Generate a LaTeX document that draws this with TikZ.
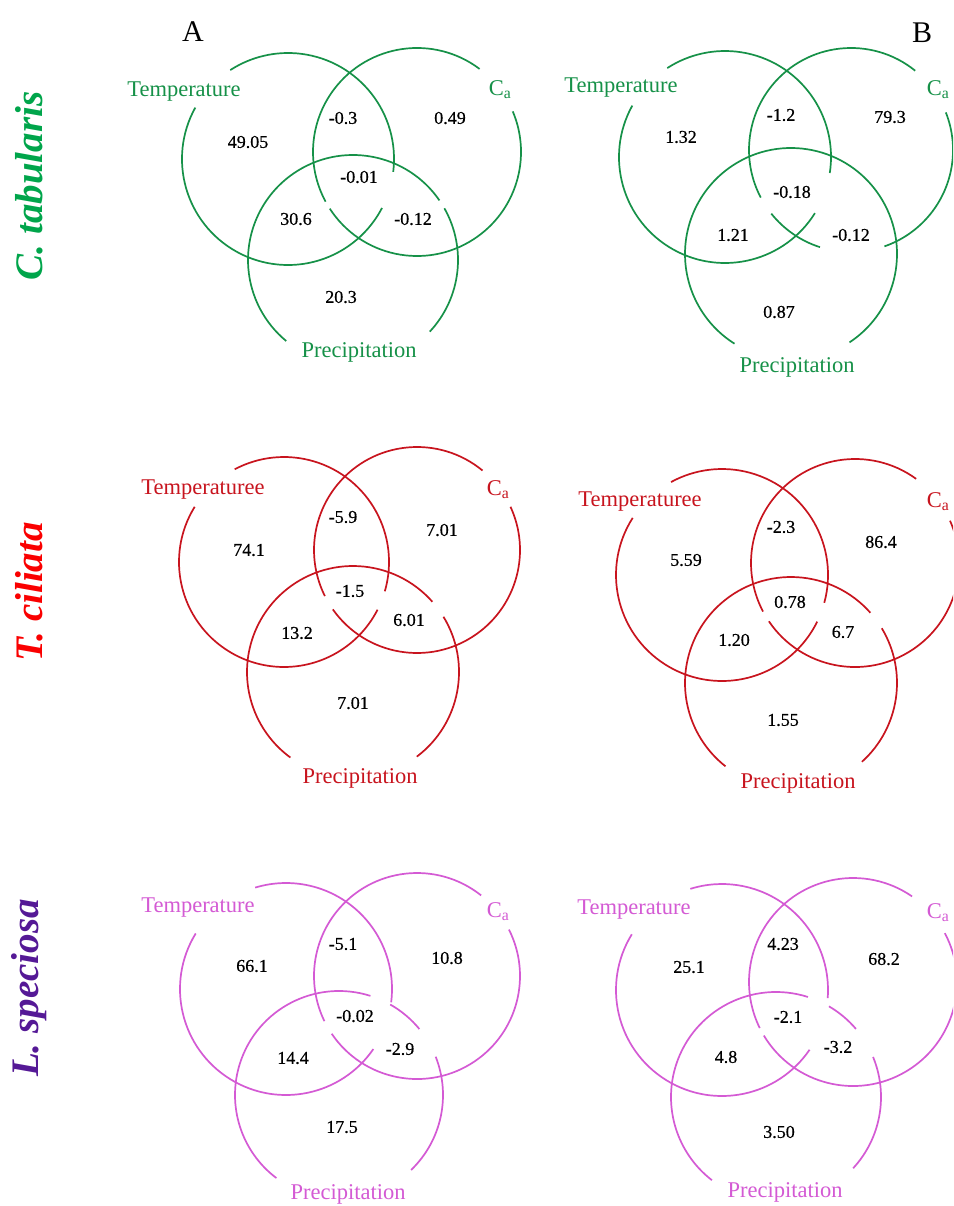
\documentclass[tikz,border=0pt]{standalone}
\usepackage{fontspec}
\setmainfont{Liberation Serif}
\newfontfamily\numfont[FakeBold=0.5]{Liberation Serif}
\definecolor{grn}{RGB}{22,145,72}
\definecolor{grnT}{RGB}{0,165,75}
\definecolor{rd}{RGB}{200,20,30}
\definecolor{rdT}{RGB}{250,0,0}
\definecolor{mg}{RGB}{212,90,212}
\definecolor{mgT}{RGB}{85,25,150}
\tikzset{
 venn/.style={line width=1.7pt},
 setlab/.style={font=\fontsize{22.5}{24}\selectfont, inner sep=0pt},
 num/.style={font=\numfont\fontsize{18}{20}\selectfont, inner sep=0pt, text=black},
 species/.style={font=\fontsize{39}{40}\selectfont\bfseries\itshape, rotate=90, inner sep=0pt},
 panel/.style={font=\fontsize{30}{32}\selectfont, inner sep=0pt, text=black},
}
\newcommand\seg[4]{\draw[venn] (#1) ++(#2:#4pt) arc[start angle=#2, end angle=#3, radius=#4pt];}
\begin{document}
\begin{tikzpicture}[x=1pt,y=1pt]
\useasboundingbox (0,0) rectangle (953,-1206);
\fill[white] (0,0) rectangle (953,-1206);
\clip (0,0) rectangle (953,-1206);

\node[panel] (lA) at (193,-32) {A};
\node[panel] (lB) at (922,-33) {B};
\node[species, text=grnT] (sp1) at (29,-186) {C. tabularis};
\node[species, text=rdT] (sp2) at (29,-592) {T. ciliata};
\node[species, text=mgT] (sp3) at (29,-988) {L. speciosa};

% ---------- A1 ----------
\begin{scope}[color=grn]
\coordinate (A1T) at (288,-159);
\coordinate (A1C) at (417,-152);
\coordinate (A1P) at (353,-260);
\seg{A1T}{-7}{123}{106}
\seg{A1T}{151}{332.5}{106}
\seg{A1C}{53}{208.5}{104}
\seg{A1C}{213}{383}{104}
\seg{A1P}{-43}{29.5}{105}
\seg{A1P}{34.6}{230.5}{105}
\node[setlab] (A1t) at (184,-92) {Temperature};
\node[setlab] (A1c) at (500,-90) {C\textsubscript{a}};
\node[setlab] (A1p) at (359,-352) {Precipitation};
\node[num] (A1n1) at (343,-118) {-0.3};
\node[num] (A1n2) at (450,-118) {0.49};
\node[num] (A1n3) at (248,-142) {49.05};
\node[num] (A1n4) at (359,-177) {-0.01};
\node[num] (A1n5) at (296,-219) {30.6};
\node[num] (A1n6) at (413,-219) {-0.12};
\node[num] (A1n7) at (341,-297) {20.3};
\end{scope}

% ---------- B1 ----------
\begin{scope}[color=grn]
\coordinate (B1T) at (725,-157);
\coordinate (B1C) at (851,-150);
\coordinate (B1P) at (791,-254);
\seg{B1T}{-8.7}{123}{106}
\seg{B1T}{151}{328}{106}
\seg{B1C}{51}{207.8}{102}
\seg{B1C}{218.6}{252.3}{102}
\seg{B1C}{289.1}{381.6}{102}
\seg{B1P}{-56.5}{237.8}{106}
\node[setlab] (B1t) at (621,-88) {Temperature};
\node[setlab] (B1c) at (938,-90) {C\textsubscript{a}};
\node[setlab] (B1p) at (797,-367) {Precipitation};
\node[num] (B1n1) at (781,-115) {-1.2};
\node[num] (B1n2) at (890,-117) {79.3};
\node[num] (B1n3) at (681,-137) {1.32};
\node[num] (B1n4) at (792,-192) {-0.18};
\node[num] (B1n5) at (733,-235) {1.21};
\node[num] (B1n6) at (851,-235) {-0.12};
\node[num] (B1n7) at (779,-312) {0.87};
\end{scope}

% ---------- A2 ----------
\begin{scope}[color=rd]
\coordinate (A2T) at (284,-562);
\coordinate (A2C) at (417,-550);
\coordinate (A2P) at (353,-672);
\seg{A2T}{-16.2}{118}{105}
\seg{A2T}{148.3}{333}{105}
\seg{A2C}{50.5}{206.6}{103}
\seg{A2C}{215.2}{384.8}{103}
\seg{A2P}{-53}{31.4}{106}
\seg{A2P}{41.5}{233.8}{106}
\node[setlab] (A2t) at (203,-490) {Temperaturee};
\node[setlab] (A2c) at (498,-490) {C\textsubscript{a}};
\node[setlab] (A2p) at (360,-778) {Precipitation};
\node[num] (A2n1) at (343,-517) {-5.9};
\node[num] (A2n2) at (442,-530) {7.01};
\node[num] (A2n3) at (249,-550) {74.1};
\node[num] (A2n4) at (350,-591) {-1.5};
\node[num] (A2n5) at (297,-633) {13.2};
\node[num] (A2n6) at (409,-620) {6.01};
\node[num] (A2n7) at (353,-703) {7.01};
\end{scope}

% ---------- B2 ----------
\begin{scope}[color=rd]
\coordinate (B2T) at (722,-575);
\coordinate (B2C) at (855,-563);
\coordinate (B2P) at (791,-683);
\seg{B2T}{-15.2}{118.7}{106}
\seg{B2T}{147.4}{333.9}{106}
\seg{B2C}{54}{207.8}{104}
\seg{B2C}{214.1}{384}{104}
\seg{B2P}{-48}{31.1}{106}
\seg{B2P}{41.5}{231.8}{106}
\node[setlab] (B2t) at (640,-502) {Temperaturee};
\node[setlab] (B2c) at (938,-502) {C\textsubscript{a}};
\node[setlab] (B2p) at (798,-783) {Precipitation};
\node[num] (B2n1) at (781,-527) {-2.3};
\node[num] (B2n2) at (881,-542) {86.4};
\node[num] (B2n3) at (686,-560) {5.59};
\node[num] (B2n4) at (790,-602) {0.78};
\node[num] (B2n5) at (734,-640) {1.20};
\node[num] (B2n6) at (843,-632) {6.7};
\node[num] (B2n7) at (783,-720) {1.55};
\end{scope}

% ---------- A3 ----------
\begin{scope}[color=mg]
\coordinate (A3T) at (286,-989);
\coordinate (A3C) at (417,-976);
\coordinate (A3P) at (339,-1095);
\seg{A3T}{-7.2}{106.9}{106}
\seg{A3T}{148.4}{325.5}{106}
\seg{A3C}{51.5}{206}{103}
\seg{A3C}{214.1}{386.8}{103}
\seg{A3P}{-46.1}{21.6}{104}
\seg{A3P}{39.4}{60.5}{104}
\seg{A3P}{72.4}{233}{104}
\node[setlab] (A3t) at (198,-908) {Temperature};
\node[setlab] (A3c) at (498,-912) {C\textsubscript{a}};
\node[setlab] (A3p) at (348,-1194) {Precipitation};
\node[num] (A3n1) at (343,-944) {-5.1};
\node[num] (A3n2) at (447,-958) {10.8};
\node[num] (A3n3) at (252,-966) {66.1};
\node[num] (A3n4) at (355,-1016) {-0.02};
\node[num] (A3n5) at (293,-1058) {14.4};
\node[num] (A3n6) at (400,-1049) {-2.9};
\node[num] (A3n7) at (342,-1127) {17.5};
\end{scope}

% ---------- B3 ----------
\begin{scope}[color=mg]
\coordinate (B3T) at (722,-990);
\coordinate (B3C) at (853,-982);
\coordinate (B3P) at (776,-1097);
\seg{B3T}{-4.4}{107.4}{106}
\seg{B3T}{148.3}{325.7}{106}
\seg{B3C}{55.4}{206.3}{104}
\seg{B3C}{211}{388}{104}
\seg{B3P}{-42.7}{22.4}{105}
\seg{B3P}{40.4}{59.7}{105}
\seg{B3P}{72.3}{232.4}{105}
\node[setlab] (B3t) at (634,-910) {Temperature};
\node[setlab] (B3c) at (938,-913) {C\textsubscript{a}};
\node[setlab] (B3p) at (785,-1192) {Precipitation};
\node[num] (B3n1) at (783,-944) {4.23};
\node[num] (B3n2) at (884,-959) {68.2};
\node[num] (B3n3) at (689,-967) {25.1};
\node[num] (B3n4) at (788,-1017) {-2.1};
\node[num] (B3n5) at (726,-1057) {4.8};
\node[num] (B3n6) at (838,-1047) {-3.2};
\node[num] (B3n7) at (779,-1132) {3.50};
\end{scope}
\end{tikzpicture}
\end{document}
